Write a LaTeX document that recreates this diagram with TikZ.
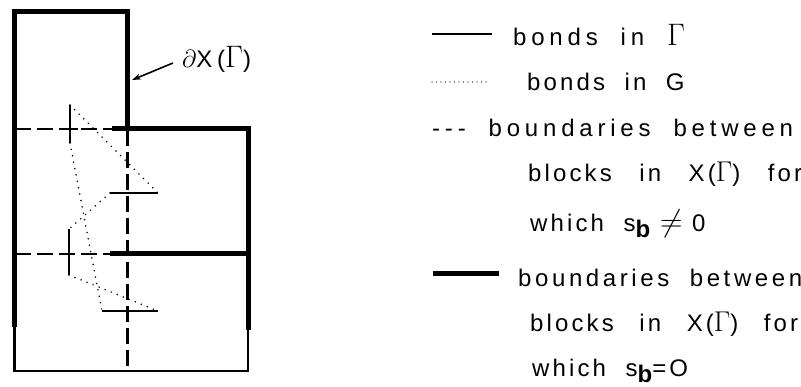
\documentclass[tikz,border=0pt]{standalone}
\usepackage{fontspec}
\setmainfont{Liberation Sans}
\newfontfamily\lgfont[LetterSpace=13]{Liberation Sans}
\newfontfamily\lgmid[LetterSpace=15]{Liberation Sans}
\newfontfamily\lgwide[LetterSpace=20]{Liberation Sans}
\usetikzlibrary{arrows.meta}
\newcommand{\bigG}{\scalebox{1.15}{$\Gamma$}}
\newcommand{\sbsub}{s\raisebox{-0.45ex}{\bfseries b}}
\begin{document}
\begin{tikzpicture}[x=1pt,y=-1pt,
  thickb/.style={line width=5pt},
  thinb/.style={line width=2.6pt},
  dashb/.style={line width=2.8pt, dash pattern=on 16pt off 6pt},
  bondg/.style={line width=2.2pt},
  bondG/.style={line width=1.7pt, line cap=round, dash pattern=on 0pt off 6.5pt},
  lbl/.style={anchor=base west, inner sep=0pt, font=\fontsize{24}{28}\lgfont},
  lblmid/.style={lbl, font=\fontsize{24}{28}\lgmid},
  lblwide/.style={lbl, font=\fontsize{24}{28}\lgwide}]
\useasboundingbox (0,0) rectangle (801,387);
% block boundaries
\coordinate (tl) at (14.5,12);
\coordinate (tr) at (127.5,12);
\coordinate (mr) at (127.5,130);
\coordinate (ml) at (14.5,327);
\coordinate (bl) at (14.5,371);
\coordinate (br) at (248,371);
\coordinate (rlow) at (248,330);
\coordinate (ra) at (112,129);
\coordinate (rb) at (248,129);
\coordinate (sa) at (110,254);
\coordinate (sb) at (248,254);
\draw[thickb] (ml) -- (tl) -- (tr) -- (mr);
\draw[thickb] (ra) -- (rb) -- (rlow);
\draw[thickb] (sa) -- (sb);
\draw[thinb] (ml) -- (bl) -- (br) -- (rlow);
% dashed boundaries
\coordinate (da1) at (15,129);
\coordinate (da2) at (112,129);
\coordinate (db1) at (15,254);
\coordinate (db2) at (110,254);
\coordinate (dv1) at (127.5,130);
\coordinate (dv2) at (127.5,371);
\draw[dashb] (da1) -- (da2);
\draw[dashb] (db1) -- (db2);
\draw[dashb] (dv1) -- (dv2);
% bonds in Gamma
\coordinate (c1t) at (70,105);
\coordinate (c1b) at (70,143);
\coordinate (c2l) at (110,193);
\coordinate (c2r) at (158,193);
\coordinate (c3t) at (69,229);
\coordinate (c3b) at (69,275);
\coordinate (c4l) at (102,311);
\coordinate (c4r) at (158,311);
\coordinate (c1h1) at (60,129);
\coordinate (c1h2) at (78,129);
\draw[bondg] (c1t) -- (c1b);
\draw[bondg] (c1h1) -- (c1h2);
\draw[bondg] (c2l) -- (c2r);
\draw[bondg] (c3t) -- (c3b);
\draw[bondg] (c4l) -- (c4r);
% bonds in G
\draw[bondG] (c1t) -- (c2r);
\draw[bondG] (c1b) -- (c4l);
\draw[bondG] (c2l) -- (c3t);
\draw[bondG] (c3b) -- (c4r);
% label dX(Gamma)
\node[lblwide] (dx) at (182,68) {$\partial$X(\scalebox{1.25}{$\Gamma$})};
\coordinate (arrtip) at (132,80);
\coordinate (arrstart) at (173,63);
\draw[line width=1.6pt, -{Stealth[length=9pt,width=6pt]}] (arrstart) -- (arrtip);
% legend
\coordinate (l1a) at (432,34);
\coordinate (l1b) at (492,34);
\coordinate (l2a) at (432,82);
\coordinate (l2b) at (488,82);
\coordinate (l5a) at (433,274);
\coordinate (l5b) at (499,274);
\draw[bondg] (l1a) -- (l1b);
\draw[line width=1.3pt, line cap=round, dash pattern=on 0pt off 4.5pt] (l2a) -- (l2b);
\draw[thickb] (l5a) -- (l5b);
\node[lblwide] (t1) at (513,46) {bonds\ \ in\ \ \scalebox{1.25}{$\Gamma$}};
\node[lbl] (t2) at (527,91) {bonds\ \ in\ \ G};
\node[lblwide] (t3) at (432,137) {-{}-{}-\ \ boundaries\ \ between};
\node[lbl] (t4) at (528,182) {blocks\hspace{8pt}\ \ in\hspace{8pt}\ \ X(\bigG)\hspace{8pt}\ \ for};
\node[lbl] (t5) at (530,232) {which\ \ \sbsub\ \scalebox{1.25}{$\neq$}\ 0};
\node[lblmid] (t6) at (518,287) {boundaries\ \ between};
\node[lbl] (t7) at (530,332) {blocks\hspace{6pt}\ \ in\hspace{6pt}\ \ X(\bigG)\hspace{6pt}\ \ for};
\node[lbl] (t8) at (532,377) {which\ \ \sbsub=O};
\end{tikzpicture}
\end{document}
